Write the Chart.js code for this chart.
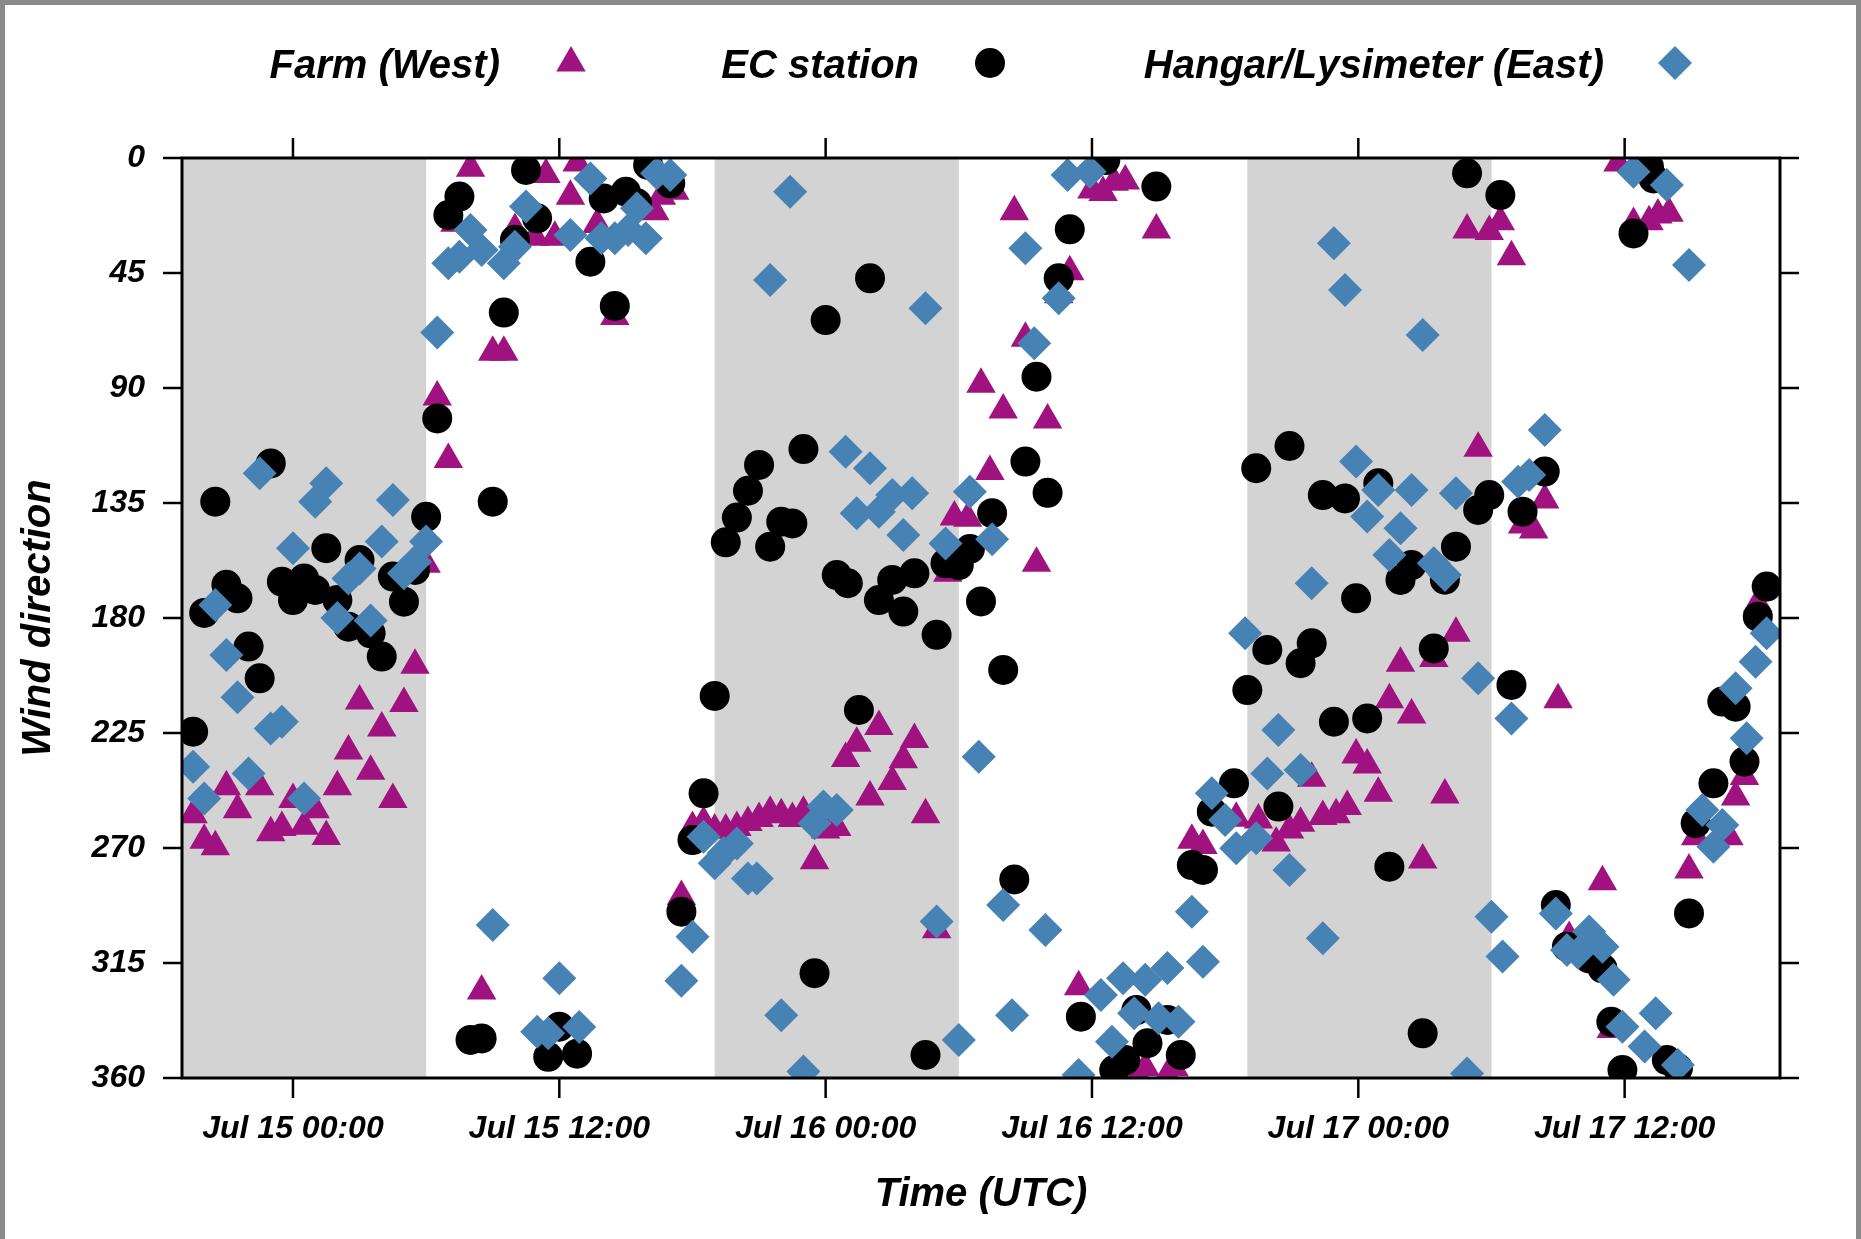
<!DOCTYPE html>
<html lang="en">
<head>
  <meta charset="UTF-8" />
  <title>Wind direction</title>
  <script src="https://cdn.jsdelivr.net/npm/chart.js"></script>
  <style>
    html, body {
      margin: 0;
      width: 1861px;
      height: 1239px;
      overflow: hidden;
      background: #8a8a8a;
    }
    #wrap {
      position: absolute;
      left: 5px;
      top: 5px;
      width: 1851px;
      height: 1234px;
      background: #fff;
    }
  </style>
</head>
<body>
  <div id="wrap"><canvas id="windChart"></canvas></div>

  <script>
    // hours since Jul 15 00:00 UTC
    const tickHours = [0, 12, 24, 36, 48, 60];
    const tickLabels = ['Jul 15 00:00', 'Jul 15 12:00', 'Jul 16 00:00', 'Jul 16 12:00', 'Jul 17 00:00', 'Jul 17 12:00'];
    const dirTicks = [0, 45, 90, 135, 180, 225, 270, 315, 360];

    // night periods (grey bands)
    const nightStart = [-5, 19, 43];
    const nightEnd = [6, 30, 54];

    const farmHours = [-4.5, -4, -3.5, -3, -2.5, -1.5, -1, -0.5, 0, 0.5, 1, 1.5, 2, 2.5, 3, 3.5, 4, 4.5, 5, 5.5,
      6, 6.5, 7, 7.3, 8, 8.5, 9, 9.5, 10, 10.9, 11.4, 11.8, 12.5, 12.8, 13.7, 14.5, 16.3, 16.6, 17.2, 17.5,
      18, 18.5, 19, 19.5, 20, 20.5, 21, 21.5, 22, 22.5, 23, 23.5, 24, 24.5, 24.9, 25.4, 26, 26.4, 27, 27.5,
      28, 28.5, 29, 29.5, 29.8, 30.4, 31, 31.4, 32, 32.5, 33, 33.5, 34, 34.5, 35, 35.4, 36, 36.5, 37, 37.5,
      38, 38.4, 38.9, 39.4, 39.7, 40.5, 41, 42.5, 43.5, 44.3, 44.9, 45.4, 45.9, 46.4, 47, 47.5, 47.9, 48.4,
      48.9, 49.4, 49.9, 50.4, 50.9, 51.4, 51.9, 52.4, 52.9, 53.4, 53.9, 54.4, 54.9, 55.4, 55.9, 56.4, 57, 57.5,
      59, 59.4, 59.7, 60.4, 61.1, 61.5, 62, 62.4, 62.9, 63.2, 64.7, 65, 65.4, 66];
    const farmDir = [257, 267, 269.5, 246, 255, 246, 264, 262, 251, 261.5, 255, 265.5, 246, 232, 212.5, 240, 223, 251, 213.5, 198.5,
      159, 93.5, 118, 25.5, 4, 326, 76, 76, 28, 31, 6.5, 31, 15, 2, 26, 62, 21, 15, 13, 289,
      262, 260, 263, 263, 262, 260, 258.5, 256, 257, 258.5, 256, 275, 263, 262, 235, 229, 250, 222.5, 244, 235.5,
      227.5, 257, 302, 162.5, 140.5, 141, 88.5, 122.7, 98.6, 21, 70.5, 158.6, 102.5, 53.5, 44.5, 324.3, 12.5, 13.5, 9.5, 9,
      358, 356, 28.2, 359, 356, 267, 269, 258.4, 259, 268, 263, 260.3, 242.7, 257.7, 257, 253.8, 233.6, 237.5,
      248.6, 212, 197.7, 218, 274.7, 195.8, 249.3, 186, 28.2, 113.6, 28.8, 24.9, 38.6, 143.6, 145.6, 133.8, 212, 305,
      283.2, 341, 2, 25.6, 24.9, 22.3, 21.6, 359, 278.6, 265.6, 265.6, 250, 242, 174.3];

    const ecHours = [-4.5, -4, -3.5, -3, -2.5, -2, -1.5, -1, -0.5, 0, 0.5, 1, 1.5, 2, 2.5, 3, 3.5, 4, 4.5, 5,
      5.5, 6, 6.5, 7, 7.5, 8, 8.5, 9, 9.5, 10, 10.5, 11, 11.5, 12, 12.8, 13.4, 14, 14.5, 15, 15.5,
      16, 17, 17.5, 18, 18.5, 19, 19.5, 20, 20.5, 21, 21.5, 22, 22.5, 23, 23.5, 24, 24.5, 25, 25.5, 26,
      26.4, 27, 27.5, 28, 28.5, 29, 29.4, 30, 30.5, 31, 31.5, 32, 32.5, 33, 33.5, 34, 34.5, 35, 35.5, 36.6,
      37, 37.5, 38, 38.5, 38.9, 39.4, 40, 40.5, 41, 41.4, 42.4, 43, 43.4, 43.9, 44.4, 44.9, 45.4, 45.9, 46.4, 46.9,
      47.4, 47.9, 48.4, 48.9, 49.4, 49.9, 50.4, 50.9, 51.4, 51.9, 52.4, 52.9, 53.4, 53.9, 54.4, 54.9, 55.4, 56.4, 56.9, 57.4,
      58.4, 59, 59.4, 59.9, 60.4, 61.1, 61.3, 61.9, 62.4, 62.9, 63.2, 64, 64.4, 65, 65.4, 66, 66.4];
    const ecDir = [224.5, 178, 134.5, 167, 172.3, 191.2, 203.6, 119.5, 165.8, 173, 164.5, 169, 152.7, 173, 183.4, 157.3, 186, 195.1, 163.8, 173.6,
      161.2, 140.4, 101.9, 22.3, 15.1, 345.1, 344.5, 134.5, 60.5, 32, 4.7, 23.6, 351.7, 339.9, 350.5, 40.6, 15.8, 57.9, 13.2, 17.7,
      2.7, 9.9, 294.9, 266.9, 248.6, 210.5, 150.4, 140.7, 130.2, 120.1, 152.1, 142.3, 143, 113.9, 319, 63.4, 163.2, 166.4, 216, 47.1,
      173, 165.1, 177.5, 162.5, 351, 186.6, 158.6, 159.3, 153, 173.5, 139, 200.3, 282.3, 118.8, 85.6, 131, 47.1, 27.9, 336, 0.8,
      356.9, 353, 333.4, 346.4, 11.2, 337.3, 351, 276.7, 278.6, 255.8, 244.7, 208.2, 121.4, 192.5, 253.8, 112.7, 197.7, 189.9, 131.9, 220.6,
      133.2, 172.3, 219.3, 127.3, 277.3, 165.1, 159.3, 342.5, 191.9, 165, 152.1, 6, 137.7, 131.9, 14.5, 206.2, 138.4, 122.7, 292.3, 308.6,
      313.2, 317.1, 338, 356.9, 29.5, 3.4, 8, 353, 356.2, 295.6, 260.3, 244.7, 212.7, 214.7, 236.2, 179.5, 167.7];

    const hangarHours = [-4.5, -4, -3.5, -3, -2.5, -2, -1.5, -1, -0.5, 0, 0.5, 1, 1.5, 2, 2.5, 3, 3.5, 4, 4.5, 5,
      5.5, 6, 6.5, 7, 7.5, 8, 8.5, 9, 9.5, 10, 10.5, 11, 11.5, 12, 12.5, 12.9, 13.4, 13.9, 14.5, 15.1,
      15.5, 15.9, 16.4, 17, 17.5, 18, 18.5, 19, 19.4, 20, 20.5, 20.9, 21.5, 22, 22.4, 23, 23.5, 23.9, 24.5, 24.9,
      25.4, 26, 26.4, 27, 27.5, 27.9, 28.5, 29, 29.4, 30, 30.5, 30.9, 31.5, 32, 32.4, 33, 33.4, 33.9, 34.5, 34.9,
      35.4, 35.9, 36.4, 36.9, 37.4, 37.9, 38.4, 39, 39.4, 39.9, 40.5, 41, 41.4, 42, 42.5, 42.9, 43.4, 43.9, 44.4, 44.9,
      45.4, 45.9, 46.4, 46.9, 47.4, 47.9, 48.4, 48.9, 49.4, 49.9, 50.4, 50.9, 51.4, 51.9, 52.4, 52.9, 53.4, 54, 54.5, 54.9,
      55.2, 55.7, 56.4, 56.9, 57.4, 57.9, 58.4, 59, 59.5, 59.9, 60.4, 60.9, 61.4, 61.9, 62.4, 62.9, 63.5, 64, 64.4, 65,
      65.5, 65.9, 66.4];
    const hangarDir = [238.2, 250.6, 174.9, 194.5, 211, 240.8, 123.4, 223.2, 220.6, 152.7, 250.6, 134.5, 127.3, 180, 164.5, 160.6, 181, 150.1, 133.8, 162.5,
      158, 150.1, 68.3, 41.2, 38.6, 28.2, 36, 300.1, 41.2, 34.7, 19, 341.9, 342.5, 321, 30.1, 340, 8, 31.4, 31.4, 28.2,
      19.7, 31.4, 6, 6.7, 321.9, 304.7, 265.6, 276, 272, 268.2, 281.9, 281.9, 47.7, 335.4, 13.2, 357.5, 260.3, 253.8, 255.1, 114.9,
      139, 121.4, 138.4, 131.9, 147.5, 131.2, 58.8, 298.8, 150.8, 345.1, 130.6, 234.3, 149.2, 292.3, 335.4, 35.3, 72.5, 302.1, 54.9, 6.7,
      358.8, 5.4, 327.5, 345.8, 321, 334.7, 321.6, 336.6, 317, 338, 294.9, 314.5, 248.6, 259, 270.1, 186, 266.2, 240.8, 223.8, 278.6,
      239.5, 166.4, 305.3, 33.4, 51.7, 118.8, 140.3, 129.9, 155.3, 144.9, 129.9, 69.3, 158.6, 163.2, 131.2, 358.2, 203.6, 296.9, 312.5, 219.3,
      126.7, 124, 106.4, 295.6, 309.9, 311, 302.7, 308.6, 321.6, 339.9, 5.4, 347.7, 334.7, 10.6, 354.9, 41.9, 255.1, 269.5, 261, 207.5,
      227.1, 197.1, 186];

    const FONT = '"Liberation Sans", Arial, sans-serif';
    const farmColor = '#a0127f';
    const ecColor = '#000000';
    const hangarColor = '#4682b4';

    function toPoints(hours, dirs) {
      return hours.map((h, i) => ({ x: h, y: dirs[i] }));
    }

    const series = [
      { label: 'Farm (West)', style: 'triangle', radius: 17, color: farmColor },
      { label: 'EC station', style: 'circle', radius: 15, color: ecColor },
      { label: 'Hangar/Lysimeter (East)', style: 'rectRot', radius: 17, color: hangarColor }
    ];

    // bands, frame with ticks on all four sides, legend
    const framePlugin = {
      id: 'frame',
      beforeDatasetsDraw(chart) {
        const { ctx, chartArea: a, scales: { x } } = chart;
        ctx.save();
        ctx.fillStyle = '#d3d3d3';
        nightStart.forEach((s, i) => {
          const x0 = Math.max(a.left, x.getPixelForValue(s));
          const x1 = Math.min(a.right, x.getPixelForValue(nightEnd[i]));
          ctx.fillRect(x0, a.top, x1 - x0, a.bottom - a.top);
        });
        ctx.restore();
      },
      afterDatasetsDraw(chart) {
        const { ctx, chartArea: a, scales: { x, y } } = chart;
        ctx.save();
        ctx.strokeStyle = '#000';
        ctx.lineWidth = 2.5;
        ctx.beginPath();
        tickHours.forEach(h => {
          const px = x.getPixelForValue(h);
          ctx.moveTo(px, a.top); ctx.lineTo(px, a.top - 20);
          ctx.moveTo(px, a.bottom); ctx.lineTo(px, a.bottom + 20);
        });
        dirTicks.forEach(d => {
          const py = y.getPixelForValue(d);
          ctx.moveTo(a.left, py); ctx.lineTo(a.left - 19, py);
          ctx.moveTo(a.right, py); ctx.lineTo(a.right + 19, py);
        });
        ctx.stroke();
        ctx.lineWidth = 3;
        ctx.strokeRect(a.left, a.top, a.right - a.left, a.bottom - a.top);
        ctx.restore();
      },
      afterDraw(chart) {
        const ctx = chart.ctx;
        const markX = [566, 985, 1670];
        ctx.save();
        ctx.font = 'italic bold 40px ' + FONT;
        ctx.fillStyle = '#000';
        ctx.textAlign = 'right';
        ctx.textBaseline = 'alphabetic';
        series.forEach((s, i) => {
          ctx.fillStyle = '#000';
          ctx.fillText(s.label, markX[i] - 71, 73);
          const opts = { pointStyle: s.style, radius: s.radius, rotation: 0, borderWidth: 0 };
          ctx.fillStyle = s.color;
          ctx.strokeStyle = s.color;
          Chart.helpers.drawPoint(ctx, opts, markX[i], 58);
        });
        ctx.restore();
      }
    };

    const tickFont = { family: FONT, size: 32, style: 'italic', weight: 'bold' };
    const titleFont = { family: FONT, size: 40, style: 'italic', weight: 'bold' };

    new Chart(document.getElementById('windChart'), {
      type: 'scatter',
      data: {
        datasets: [
          { label: series[2].label, data: toPoints(hangarHours, hangarDir), order: 0 },
          { label: series[1].label, data: toPoints(ecHours, ecDir), order: 1 },
          { label: series[0].label, data: toPoints(farmHours, farmDir), order: 2 }
        ].map(ds => {
          const s = series.find(v => v.label === ds.label);
          return Object.assign(ds, {
            pointStyle: s.style,
            pointRadius: s.radius,
            pointHoverRadius: s.radius,
            backgroundColor: s.color,
            borderWidth: 0,
            clip: 0
          });
        })
      },
      plugins: [framePlugin],
      options: {
        responsive: true,
        maintainAspectRatio: false,
        animation: false,
        layout: { autoPadding: false, padding: { top: 153, right: 76, bottom: 0, left: 0 } },
        plugins: { legend: { display: false }, tooltip: { enabled: false } },
        scales: {
          x: {
            type: 'linear',
            min: -5,
            max: 67,
            grid: { display: false, drawTicks: false },
            border: { display: false },
            afterBuildTicks: scale => { scale.ticks = tickHours.map(v => ({ value: v })); },
            afterFit: scale => { scale.height = 161; },
            ticks: {
              padding: 32,
              color: '#000',
              font: tickFont,
              maxRotation: 0,
              callback: v => tickLabels[tickHours.indexOf(v)]
            },
            title: { display: true, text: 'Time (UTC)', color: '#000', font: titleFont, padding: { top: 0, bottom: 20 } }
          },
          y: {
            reverse: true,
            min: 0,
            max: 360,
            grid: { display: false, drawTicks: false },
            border: { display: false },
            afterBuildTicks: scale => { scale.ticks = dirTicks.map(v => ({ value: v })); },
            afterFit: scale => { scale.width = 177; },
            ticks: { padding: 37, color: '#000', font: tickFont },
            title: { display: true, text: 'Wind direction', color: '#000', font: titleFont, padding: { top: 10, bottom: 0 } }
          }
        }
      }
    });
  </script>
</body>
</html>
